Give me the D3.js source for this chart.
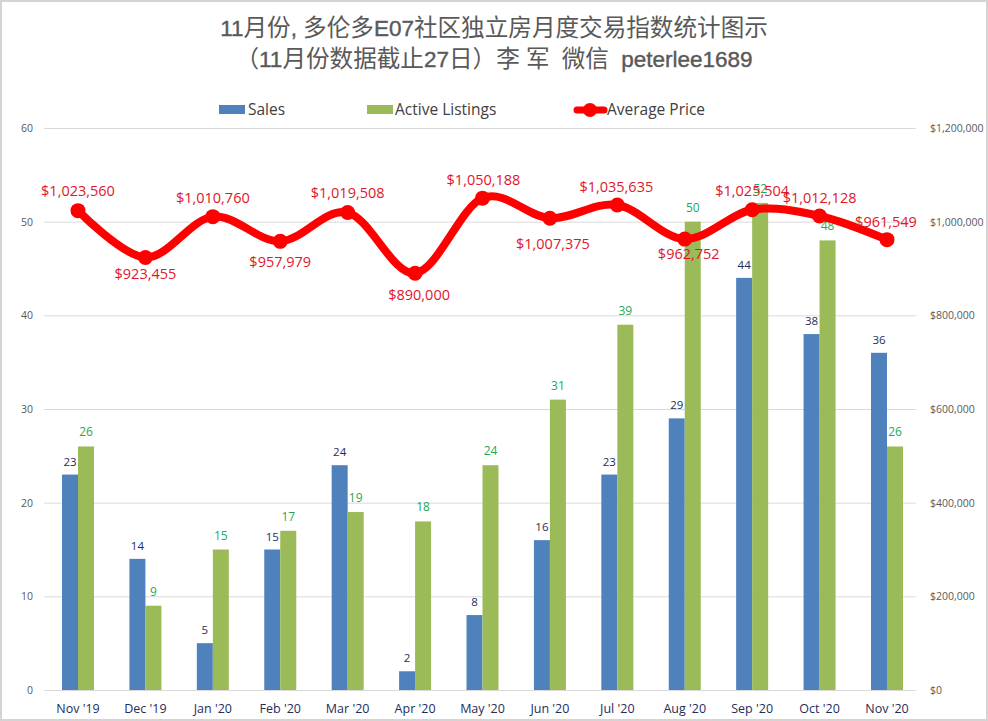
<!DOCTYPE html>
<html><head><meta charset="utf-8">
<script src="https://cdn.jsdelivr.net/npm/d3@7/dist/d3.min.js"></script>
<style>
html,body{margin:0;padding:0;background:#fff;overflow:hidden}
text{font-family:"Open Sans","Noto Sans CJK SC",sans-serif}
</style></head><body>
<svg id="c" width="988" height="721"></svg>
<script>
const categories=["Nov '19","Dec '19","Jan '20","Feb '20","Mar '20","Apr '20","May '20","Jun '20","Jul '20","Aug '20","Sep '20","Oct '20","Nov '20"];
const sales=[23,14,5,15,24,2,8,16,23,29,44,38,36];
const listings=[26,9,15,17,19,18,24,31,39,50,52,48,26];
const prices=[1023560,923455,1010760,957979,1019508,890000,1050188,1007375,1035635,962752,1025504,1012128,961549];
const leftTicks=[0,10,20,30,40,50,60];
const rightTicks=[0,200000,400000,600000,800000,1000000,1200000];
const titleLines=["11月份, 多伦多E07社区独立房月度交易指数统计图示","（11月份数据截止27日）李 军  微信  peterlee1689"];
const legendNames=["Sales","Active Listings","Average Price"];

const W=988,H=721,top_=128,bottom=690,left=44.3,right=920.7;
const blue="#4f81bd",green="#9bbb59",red="#ff0000",labelRed="#e0162b",labelGreen="#1fa75a",labelNavy="#1f2d5c",grid="#d9d9d9",axisText="#595959";
const svg=d3.select("#c");
svg.append("rect").attr("x",1).attr("y",1).attr("width",W-2).attr("height",H-2).attr("fill","#fff").attr("stroke","#d4d4d4").attr("stroke-width",2);

const x=d3.scaleBand().domain(categories).range([left,right]);
const y=d3.scaleLinear().domain([0,60]).range([bottom,top_]);
const y2=d3.scaleLinear().domain([0,1200000]).range([bottom,top_]);
const barW=16;

svg.append("g").selectAll("line").data(leftTicks).join("line")
 .attr("x1",left).attr("x2",right-5).attr("y1",d=>y(d)+.5).attr("y2",d=>y(d)+.5)
 .attr("stroke",grid).attr("stroke-width",1);

const fmt=d3.format("$,");
svg.append("g").selectAll("text").data(leftTicks).join("text")
 .attr("x",33).attr("y",d=>y(d)+4).attr("text-anchor","end").attr("font-size",10.5).attr("fill",axisText).text(d=>d);
svg.append("g").selectAll("text").data(rightTicks).join("text")
 .attr("x",930).attr("y",d=>y2(d)+4).attr("text-anchor","start").attr("font-size",10.5).attr("fill",axisText).text(d=>fmt(d));
svg.append("g").selectAll("text").data(categories).join("text")
 .attr("x",d=>x(d)+x.bandwidth()/2).attr("y",713).attr("text-anchor","middle").attr("font-size",12.5).attr("fill",labelNavy).text(d=>d);

const cx=i=>x(categories[i])+x.bandwidth()/2;
svg.append("g").selectAll("rect").data(sales).join("rect")
 .attr("x",(d,i)=>cx(i)-barW).attr("width",barW).attr("y",d=>y(d)).attr("height",d=>bottom-y(d)).attr("fill",blue);
svg.append("g").selectAll("rect").data(listings).join("rect")
 .attr("x",(d,i)=>cx(i)).attr("width",barW).attr("y",d=>y(d)).attr("height",d=>bottom-y(d)).attr("fill",green);

svg.append("g").selectAll("text").data(sales).join("text")
 .attr("x",(d,i)=>cx(i)-barW/2).attr("y",d=>y(d)-9).attr("text-anchor","middle").attr("font-size",11.5).attr("fill",labelNavy).text(d=>d);
svg.append("g").selectAll("text").data(listings).join("text")
 .attr("x",(d,i)=>cx(i)+barW/2).attr("y",d=>y(d)-10).attr("text-anchor","middle").attr("font-size",12).attr("fill",labelGreen).text(d=>d);

const line=d3.line().x((d,i)=>cx(i)).y(d=>y2(d)).curve(d3.curveCardinal.tension(0));
svg.append("path").datum(prices).attr("d",line).attr("fill","none").attr("stroke",red).attr("stroke-width",8).attr("stroke-linecap","round");
svg.append("g").selectAll("circle").data(prices).join("circle")
 .attr("cx",(d,i)=>cx(i)).attr("cy",d=>y2(d)).attr("r",7.5).attr("fill",red);

// label offsets relative to each point
const priceLabelDx=[0,0,0,0,0,4,1,3,-1,4,0,0,-1];
const priceLabelDy=[-15,21,-14,26,-15,27,-13,31,-13,20,-14,-13,-13];
svg.append("g").selectAll("text").data(prices).join("text")
 .attr("x",(d,i)=>cx(i)+priceLabelDx[i]).attr("y",(d,i)=>y2(d)+priceLabelDy[i])
 .attr("text-anchor","middle").attr("font-size",14.5).attr("fill",labelRed).text(d=>fmt(d));

// Title: Latin runs in a narrower, slightly heavier face, as in the reference
const tg=svg.append("g").attr("fill","#595959").attr("text-anchor","middle").attr("font-size",23.6);
tg.selectAll("text").data(titleLines).join("text")
 .attr("x",W/2).attr("y",(d,i)=>36+i*31).style("white-space","pre")
 .each(function(d){
   const t=d3.select(this);
   d.split(/([A-Za-z0-9,]+)/).filter(s=>s.length).forEach(s=>{
     const ts=t.append("tspan").text(s).style("white-space","pre");
     if(/^[A-Za-z0-9,]+$/.test(s)) ts.attr("font-size",22.5).style("font-family",'"Liberation Sans",sans-serif').attr("stroke","#595959").attr("stroke-width",.4);
   });
 });

const lg=svg.append("g").attr("font-size",15.5).attr("fill","#404040");
lg.append("rect").attr("x",219).attr("y",105).attr("width",26).attr("height",9).attr("fill",blue);
lg.append("rect").attr("x",367).attr("y",105).attr("width",26).attr("height",9).attr("fill",green);
lg.append("line").attr("x1",577).attr("x2",604).attr("y1",110).attr("y2",110).attr("stroke",red).attr("stroke-width",7).attr("stroke-linecap","round");
lg.append("circle").attr("cx",590).attr("cy",110).attr("r",7).attr("fill",red);
const legendX=[248,395,607];
lg.selectAll("text").data(legendNames).join("text").attr("x",(d,i)=>legendX[i]).attr("y",115).text(d=>d);
</script></body></html>
